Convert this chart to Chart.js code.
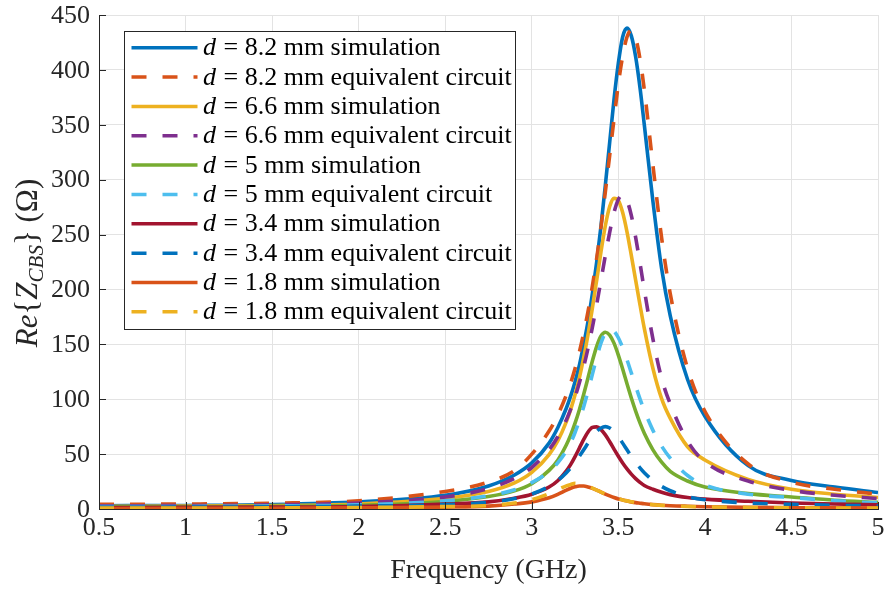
<!DOCTYPE html>
<html>
<head>
<meta charset="utf-8">
<title>Re{Z_CBS} vs frequency</title>
<script src="https://cdn.jsdelivr.net/npm/chart.js@4.4.1/dist/chart.umd.min.js"></script>
<style>
  body { margin: 0; background: #fff; }
  canvas { display: block; }
</style>
</head>
<body>
<canvas id="reChart" width="885" height="589"></canvas>
<script>
// Frequency points (GHz), denser around the resonance
const freqGHz = [0.5, 1.0, 1.5, 2.0, 2.5, 2.75, 2.9, 3.0, 3.1, 3.15, 3.2, 3.225, 3.25, 3.275, 3.3, 3.325, 3.35, 3.375, 3.4, 3.425,
    3.45, 3.475, 3.5, 3.525, 3.55, 3.575, 3.6, 3.625, 3.65, 3.7, 3.75, 3.8, 3.9, 4.0, 4.25, 4.5, 4.75, 5.0];

// Re{Z_CBS} (Ohm)
const sim82 = [3.0, 3.2, 4.0, 6.5, 12.5, 21, 31, 42, 60, 74, 92, 103, 116, 131, 150, 171, 196, 225, 258, 295,
    334, 373, 406, 430, 438, 431, 412, 384, 350, 280, 219, 176, 118, 84.5, 39.5, 26, 20, 15];
const eq82 = [4.3, 4.5, 5.3, 7.5, 16, 24.5, 35, 50, 71, 85.5, 104, 115, 128, 143, 160.5, 180, 203, 228.5, 257, 289,
    322, 355, 387, 412.5, 430, 436, 429, 410, 382, 313, 247, 196, 128, 89, 41, 24.5, 18, 13.5];
const sim66 = [2.4, 2.6, 3.2, 4.6, 9.7, 15.9, 23.7, 33.3, 49.6, 62, 79.6, 90.8, 104, 119.5, 138, 159, 183, 208.5, 234.5, 258,
    275.5, 283, 281, 270, 252.5, 231, 208.5, 186, 164.5, 128, 100.5, 82.5, 56.7, 44.7, 27, 18, 13.5, 10.5];
const eq66 = [3.0, 3.1, 3.8, 5.5, 11, 18.7, 27.8, 37.8, 54, 65.8, 81.4, 91, 102, 115, 129.7, 146.5, 165.4, 186.3, 208.5, 231,
    252, 270, 282, 286, 281, 267.5, 247.4, 224, 199.6, 154.8, 119, 95.7, 61.8, 43, 25.5, 17, 12.5, 9.5];
const sim50 = [1.9, 2.0, 2.4, 3.4, 6.9, 11.3, 16.5, 23, 35.2, 44.5, 58.5, 67.5, 78.2, 90.5, 104.5, 119.6, 134.8, 148.2, 157.6, 161,
    158.4, 151.1, 140.2, 127.5, 114.1, 101.1, 89.2, 78.5, 69.1, 53.9, 42.6, 34.3, 25.5, 20, 14, 11, 8, 6];
const eq50 = [2.2, 2.3, 2.7, 3.8, 7.5, 12, 17.5, 24, 34, 42, 53, 60.5, 69.7, 80.6, 93.2, 107.3, 122.6, 137.8, 151.2, 160.6,
    164, 162, 156, 147, 136, 124, 112, 100.4, 89.8, 71.6, 57.3, 46.4, 30.5, 21.7, 13.5, 10.5, 7.5, 5.5];
const sim34 = [1.4, 1.5, 1.7, 2.3, 4.5, 6.5, 9.8, 13.4, 20, 25.7, 34.7, 40.6, 47.7, 55.5, 63.4, 70.2, 74.3, 74.8, 72.3, 67.5,
    61.3, 54.6, 48, 41.9, 36.5, 31.8, 27.7, 24.3, 21.4, 18, 15.3, 13.1, 10.5, 9, 7, 5.5, 4.5, 3.8];
const eq34 = [1.6, 1.7, 2.0, 2.6, 4.0, 6.1, 9.5, 13.6, 20.6, 26, 33.1, 37.5, 42.5, 48, 53.9, 60, 65.8, 70.6, 73.8, 75,
    73.8, 70.6, 65.8, 60, 53.9, 48, 42.5, 37.5, 33.1, 26, 20.6, 16.6, 11.3, 8.5, 5.5, 4.2, 3.4, 2.8];
const sim18 = [0.5, 0.6, 0.7, 1.0, 1.7, 2.6, 4.5, 6.5, 10.2, 13.4, 17.2, 18.9, 20.2, 20.9, 20.9, 20.1, 18.8, 17.2, 15.4, 13.6,
    12, 10.5, 9.2, 8.3, 7.4, 6.5, 5.8, 5.3, 4.8, 4.0, 3.4, 3.0, 2.5, 2.1, 1.5, 1.2, 1.0, 0.9];
const eq18 = [0.8, 0.9, 1.0, 1.3, 2.2, 3.1, 5.4, 8.6, 14, 17.7, 21.1, 22.3, 23.5, 23, 22.1, 20.8, 19.1, 17.3, 15.4, 13.7,
    12.1, 10.7, 9.4, 8.3, 7.4, 6.6, 5.9, 5.3, 4.8, 3.9, 3.3, 2.9, 2.3, 1.9, 1.4, 1.1, 0.9, 0.8];

const xTicks = [0.5, 1, 1.5, 2, 2.5, 3, 3.5, 4, 4.5, 5];
const yTicks = [0, 50, 100, 150, 200, 250, 300, 350, 400, 450];

const serif = '"Liberation Serif", "Times New Roman", serif';
const axisColor = '#262626';

// one entry per curve, in legend order
const curves = [
    { d: '8.2', kind: 'simulation', values: sim82, color: '#0072BD', dashed: false },
    { d: '8.2', kind: 'equivalent circuit', values: eq82, color: '#D95319', dashed: true },
    { d: '6.6', kind: 'simulation', values: sim66, color: '#EDB120', dashed: false },
    { d: '6.6', kind: 'equivalent circuit', values: eq66, color: '#7E2F8E', dashed: true },
    { d: '5', kind: 'simulation', values: sim50, color: '#77AC30', dashed: false },
    { d: '5', kind: 'equivalent circuit', values: eq50, color: '#4DBEEE', dashed: true },
    { d: '3.4', kind: 'simulation', values: sim34, color: '#A2142F', dashed: false },
    { d: '3.4', kind: 'equivalent circuit', values: eq34, color: '#0072BD', dashed: true },
    { d: '1.8', kind: 'simulation', values: sim18, color: '#D95319', dashed: false },
    { d: '1.8', kind: 'equivalent circuit', values: eq18, color: '#EDB120', dashed: true }
];
const dashPattern = [15, 16];

const datasets = curves.map((c, i) => ({
    label: 'd = ' + c.d + ' mm ' + c.kind,
    data: c.values.map((v, k) => ({ x: freqGHz[k], y: v })),
    borderColor: c.color,
    backgroundColor: c.color,
    borderWidth: 3.6,
    borderDash: c.dashed ? dashPattern : [],
    pointRadius: 0,
    fill: false,
    cubicInterpolationMode: 'monotone',
    order: curves.length - 1 - i // later curves on top, like the original plot
}));

// tick labels, inward ticks, axis titles and the boxed legend
const decorations = {
    id: 'decorations',
    afterDraw(chart) {
        const ctx = chart.ctx;
        const area = chart.chartArea;
        const xs = chart.scales.x;
        const ys = chart.scales.y;
        ctx.save();

        ctx.strokeStyle = axisColor;
        ctx.lineWidth = 1;
        ctx.setLineDash([]);
        ctx.beginPath();
        xTicks.forEach(v => {
            const px = Math.round(xs.getPixelForValue(v)) + 0.5;
            ctx.moveTo(px, area.bottom);
            ctx.lineTo(px, area.bottom - 7);
        });
        yTicks.forEach(v => {
            const py = Math.round(ys.getPixelForValue(v)) + 0.5;
            ctx.moveTo(area.left, py);
            ctx.lineTo(area.left + 7, py);
        });
        ctx.stroke();

        // tick labels
        ctx.fillStyle = axisColor;
        ctx.font = '26px ' + serif;
        ctx.textBaseline = 'middle';
        ctx.textAlign = 'center';
        xTicks.forEach(v => ctx.fillText(String(v), xs.getPixelForValue(v), area.bottom + 19));
        ctx.textAlign = 'right';
        yTicks.forEach(v => ctx.fillText(String(v), area.left - 9, ys.getPixelForValue(v) + 1));

        // x title
        ctx.font = '28px ' + serif;
        ctx.textAlign = 'center';
        ctx.fillText('Frequency (GHz)', (area.left + area.right) / 2, 571);

        // y title: Re{Z_CBS} (Ω)
        const parts = [
            { t: 'Re', f: 'italic 31px ' + serif, dy: 0 },
            { t: '{', f: '31px ' + serif, dy: 0 },
            { t: 'Z', f: 'italic 31px ' + serif, dy: 0 },
            { t: 'CBS', f: 'italic 21px ' + serif, dy: 6 },
            { t: '}', f: '31px ' + serif, dy: 0 },
            { t: ' (Ω)', f: '31px ' + serif, dy: 0 }
        ];
        let total = 0;
        parts.forEach(p => { ctx.font = p.f; p.w = ctx.measureText(p.t).width; total += p.w; });
        ctx.translate(26, 263);
        ctx.rotate(-Math.PI / 2);
        ctx.textAlign = 'left';
        ctx.textBaseline = 'alphabetic';
        let px = -total / 2;
        parts.forEach(p => {
            ctx.font = p.f;
            ctx.fillText(p.t, px, 11 + p.dy);
            px += p.w;
        });
        ctx.setTransform(1, 0, 0, 1, 0, 0);

        // legend
        const box = { x: 124.5, y: 31.5, w: 391, h: 298 };
        ctx.fillStyle = '#ffffff';
        ctx.fillRect(box.x, box.y, box.w, box.h);
        ctx.strokeStyle = axisColor;
        ctx.lineWidth = 1;
        ctx.strokeRect(box.x, box.y, box.w, box.h);
        const rowTop = 47.7;
        const rowGap = 29.35;
        curves.forEach((c, i) => {
            const y = rowTop + i * rowGap;
            ctx.strokeStyle = c.color;
            ctx.lineWidth = 3.5;
            ctx.setLineDash(c.dashed ? dashPattern : []);
            ctx.beginPath();
            ctx.moveTo(131.5, y);
            ctx.lineTo(197.5, y);
            ctx.stroke();
            ctx.setLineDash([]);

            ctx.fillStyle = '#000000';
            ctx.textAlign = 'left';
            ctx.textBaseline = 'alphabetic';
            ctx.font = 'italic 26px ' + serif;
            ctx.fillText('d', 203, y + 7.5);
            const dw = ctx.measureText('d').width;
            ctx.font = '26px ' + serif;
            ctx.fillText(' = ' + c.d + ' mm ' + c.kind, 203 + dw + 1, y + 7.5);
        });

        ctx.restore();
    }
};

const ctx = document.getElementById('reChart');
const reChart = new Chart(ctx, {
    type: 'line',
    data: { datasets: datasets },
    options: {
        responsive: false,
        animation: false,
        devicePixelRatio: 1,
        layout: { padding: { top: 15, right: 7, left: 0, bottom: 0 } },
        plugins: {
            legend: { display: false },
            tooltip: { enabled: false }
        },
        scales: {
            x: {
                type: 'linear',
                min: 0.5,
                max: 5,
                afterBuildTicks: scale => { scale.ticks = xTicks.map(v => ({ value: v })); },
                afterFit: scale => { scale.height = 80; },
                ticks: { display: false },
                grid: { color: '#e3e3e3', lineWidth: 1, drawTicks: false },
                border: { display: true, color: axisColor, width: 1 }
            },
            y: {
                min: 0,
                max: 450,
                afterBuildTicks: scale => { scale.ticks = yTicks.map(v => ({ value: v })); },
                afterFit: scale => { scale.width = 99; },
                ticks: { display: false },
                grid: { color: '#e3e3e3', lineWidth: 1, drawTicks: false },
                border: { display: true, color: axisColor, width: 1 }
            }
        }
    },
    plugins: [decorations]
});
</script>
</body>
</html>
